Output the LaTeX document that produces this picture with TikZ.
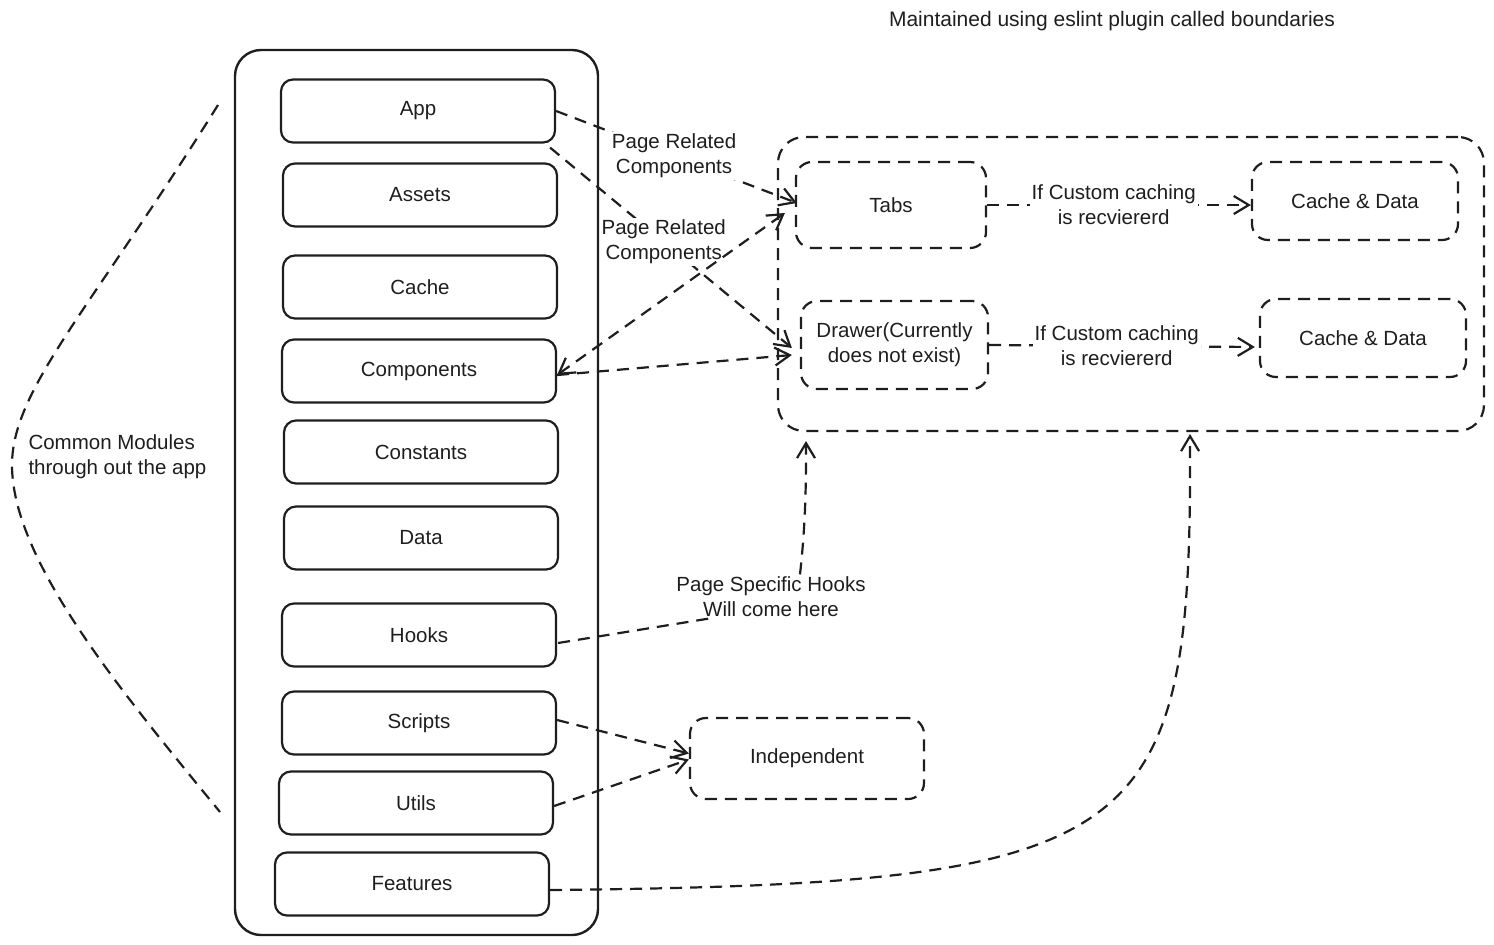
\documentclass[tikz,border=0pt]{standalone}
\usepackage{fontspec}
\setmainfont{Liberation Sans}
\usetikzlibrary{arrows.meta,calc}
\definecolor{ink}{HTML}{1E1E1E}
\begin{document}
\begin{tikzpicture}[x=1pt,y=-1pt,
  >={Straight Barb[length=15pt,width=18pt]},
  every node/.style={text=ink, font=\fontsize{20.5}{25}\selectfont, align=center},
  modbox/.style={draw=ink, line width=2.2pt, rounded corners=12pt,
    minimum width=274pt, minimum height=63pt, inner sep=0pt},
  dbox/.style={draw=ink, line width=2.2pt, dash pattern=on 12pt off 8pt,
    rounded corners=16pt, inner sep=0pt},
  dline/.style={draw=ink, line width=2.2pt, dash pattern=on 12pt off 8pt},
  link/.style={dline, ->},
  lbl/.style={fill=white, inner sep=2pt},
]
\useasboundingbox (0,0) rectangle (1494,945);

% heading
\node (title) at (1112,21) {\fontsize{21}{24}\selectfont Maintained using eslint plugin called boundaries};

% module column
\node[draw=ink, line width=2.4pt, rounded corners=26pt, minimum width=363pt,
      minimum height=885pt] (mods) at (416.5,492.5) {};
\node[modbox] (app)      at (418,111) {App};
\node[modbox] (assets)   at (420,195) {Assets};
\node[modbox] (cache)    at (420,287) {Cache};
\node[modbox] (comp)     at (419,371) {Components};
\node[modbox] (consts)   at (421,452) {Constants};
\node[modbox] (data)     at (421,538) {Data};
\node[modbox] (hooks)    at (419,635) {Hooks};
\node[modbox] (scripts)  at (419,723) {Scripts};
\node[modbox] (utils)    at (416,803) {Utils};
\node[modbox] (features) at (412,884) {Features};

% brace and caption for the common modules
\draw[dline] (218,105) .. controls (90,310) and (12,390) .. (12,465)
             .. controls (12,560) and (120,690) .. (220,812);
\node[align=left, anchor=west] (common) at (25,457) {Common Modules\\through out the app};

% page group
\node[dbox, rounded corners=26pt, minimum width=706pt, minimum height=294pt] (grp) at (1131,284) {};
\node[dbox, minimum width=190pt, minimum height=86pt] (tabs)   at (891,205) {Tabs};
\node[dbox, minimum width=187pt, minimum height=88pt] (drawer) at (894.5,345) {Drawer(Currently\\does not exist)};
\node[dbox, minimum width=206pt, minimum height=78pt] (cd1) at (1355,201) {Cache \& Data};
\node[dbox, minimum width=206pt, minimum height=78pt] (cd2) at (1363,338) {Cache \& Data};
\coordinate (grpIn1) at (806,441);
\coordinate (grpIn2) at (1190,434);

% independent modules
\node[dbox, minimum width=234pt, minimum height=81pt] (indep) at (807,758.5) {Independent};

% app links
\draw[link] (app.east) -- node[lbl, pos=0.49] (lblA) {Page Related\\Components} ($(tabs.west)+(2,-2)$);
\draw[link] ($(app.south east)+(-6,4)$) -- node[lbl, pos=0.47] (lblB) {Page Related\\Components} ($(drawer.west)+(-8,3)$);

% components links
\draw[dline, <->] ($(comp.east)+(0,4)$) -- ($(tabs.west)+(-10,8)$);
\draw[link] ($(comp.east)+(0,4)$) -- ($(drawer.west)+(-8,10)$);

% caching links
\draw[link] (tabs.east) -- node[lbl, pos=0.48] (lblC) {If Custom caching\\is recviererd} ($(cd1.west)+(0,4)$);
\draw[link] (drawer.east) -- node[lbl, pos=0.48] (lblD) {If Custom caching\\is recviererd} ($(cd2.west)+(-4,9)$);

% hooks link, broken by its caption
\node (lblE) at (771,597) {Page Specific Hooks\\Will come here};
\draw[dline] ($(hooks.east)+(1,8)$) -- ($(lblE.south west)+(36,-2)$);
\draw[link] ($(lblE.north)+(29,1)$) .. controls (806,520) and (806,480) .. (grpIn1);

% scripts and utils
\draw[link] ($(scripts.east)+(0,-3)$) -- ($(indep.west)+(0,-5)$);
\draw[link] ($(utils.east)+(0,3)$) -- ($(indep.west)+(0,1)$);

% features
\draw[link] ($(features.east)+(0,6)$) .. controls (1150,884) and (1192,845) .. (grpIn2);
\end{tikzpicture}
\end{document}
